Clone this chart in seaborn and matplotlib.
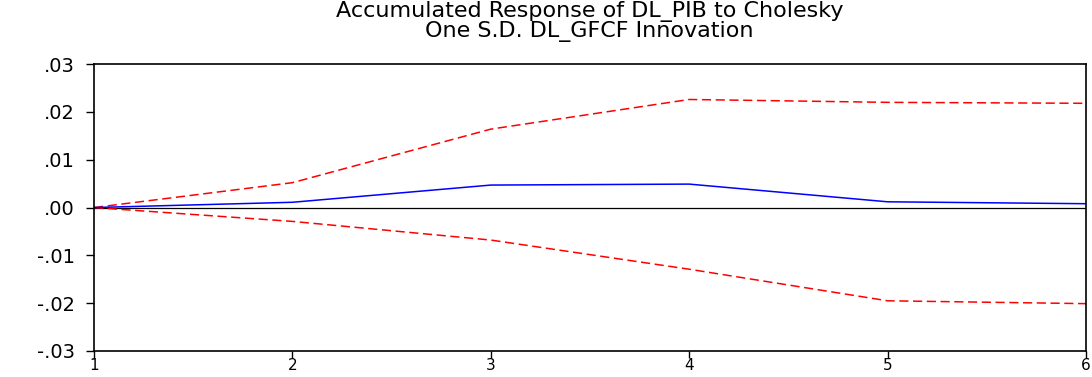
import seaborn as sns
import pandas as pd
import matplotlib.pyplot as plt

periods = [1, 2, 3, 4, 5, 6]
response = [0.0, 0.0011, 0.0047, 0.0049, 0.0012, 0.0008]
upper_band = [0.0, 0.0052, 0.0164, 0.0226, 0.0220, 0.0218]
lower_band = [0.0, -0.0029, -0.0068, -0.0129, -0.0195, -0.0201]
y_ticks = [-0.03, -0.02, -0.01, 0.0, 0.01, 0.02, 0.03]
y_labels = ['-.03', '-.02', '-.01', '.00', '.01', '.02', '.03']

df = pd.DataFrame({'period': periods, 'response': response,
                   'upper': upper_band, 'lower': lower_band})

sns.set_style('white')
plt.rcParams['font.family'] = ['DejaVu Sans']
plt.rcParams['text.color'] = 'black'
plt.rcParams['xtick.color'] = 'black'
plt.rcParams['ytick.color'] = 'black'

fig = plt.figure(figsize=(10.92, 3.77), dpi=100)
ax = fig.add_axes([0.0861, 0.0690, 0.9084, 0.7610])

ax.axhline(0, color='black', lw=0.9, zorder=1)
sns.lineplot(data=df, x='period', y='upper', ax=ax, color='red', lw=1.1,
             linestyle=(0, (6, 3)))
sns.lineplot(data=df, x='period', y='lower', ax=ax, color='red', lw=1.1,
             linestyle=(0, (6, 3)))
sns.lineplot(data=df, x='period', y='response', ax=ax, color='blue', lw=1.1)

ax.set_xlim(1, 6)
ax.set_ylim(-0.03, 0.03)
ax.set_xticks(periods)
ax.set_xticklabels([str(p) for p in periods])
ax.set_yticks(y_ticks)
ax.set_yticklabels(y_labels)
ax.set_xlabel('')
ax.set_ylabel('')
ax.tick_params(axis='both', direction='out', width=1, color='black',
               labelcolor='black', bottom=True, left=True)
ax.tick_params(axis='y', pad=8, labelsize=14, length=6)
ax.tick_params(axis='x', pad=0, labelsize=11, length=5)
for s in ax.spines.values():
    s.set_color('black')
    s.set_linewidth(1.2)

fig.text(0.54, 0.997, 'Accumulated Response of DL_PIB to Cholesky\nOne S.D. DL_GFCF Innovation',
         ha='center', va='top', fontsize=16, linespacing=0.9, color='black')

fig.savefig('out.png', dpi=100)
